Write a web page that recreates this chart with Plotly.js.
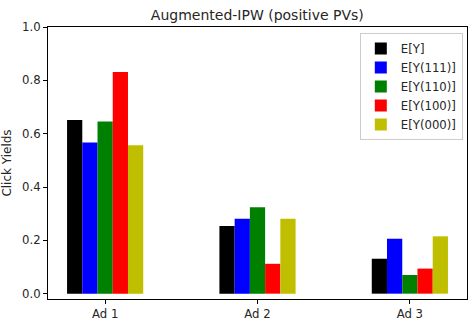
<!DOCTYPE html>
<html>
<head>
<meta charset="utf-8">
<script src="https://cdn.plot.ly/plotly-3.0.1.min.js"></script>
<style>
  html, body { margin: 0; padding: 0; background: #fff; }
  #myDiv { width: 473px; height: 327px; }
</style>
</head>
<body>
<div id="myDiv"></div>
<script>
// categories and series
const ads = ['Ad 1', 'Ad 2', 'Ad 3'];
const seriesNames = ['E[Y]', 'E[Y(111)]', 'E[Y(110)]', 'E[Y(100)]', 'E[Y(000)]'];
const eY    = [0.651, 0.254, 0.131];
const eY111 = [0.567, 0.281, 0.206];
const eY110 = [0.646, 0.324, 0.070];
const eY100 = [0.831, 0.112, 0.094];
const eY000 = [0.557, 0.281, 0.215];
const colors = ['#000000', '#0000ff', '#008000', '#ff0000', '#bfbf00'];
const yTicks = [0.0, 0.2, 0.4, 0.6, 0.8, 1.0];

const values = [eY, eY111, eY110, eY100, eY000];
const data = [];
for (let i = 0; i < values.length; i++) {
    data.push({
        type: 'bar',
        name: seriesNames[i],
        x: ads,
        y: values[i],
        marker: {color: colors[i], line: {width: 0}}
    });
}

const font = {family: 'DejaVu Sans, sans-serif', size: 11.7, color: '#262626'};

const layout = {
    width: 473,
    height: 327,
    margin: {l: 48, r: 6, t: 27, b: 28},
    paper_bgcolor: '#ffffff',
    plot_bgcolor: '#ffffff',
    font: font,
    title: {
        text: 'Augmented-IPW (positive PVs)',
        font: {family: 'DejaVu Sans, sans-serif', size: 14, color: '#262626'},
        x: 0.544, xanchor: 'center',
        y: 0.955, yanchor: 'middle'
    },
    barmode: 'group',
    bargap: 0.5,
    bargroupgap: 0,
    showlegend: true,
    legend: {
        x: 0.99, xanchor: 'right',
        y: 0.978, yanchor: 'top',
        bgcolor: '#ffffff',
        bordercolor: '#cccccc',
        borderwidth: 1,
        font: font,
        tracegroupgap: 0
    },
    xaxis: {
        type: 'category',
        range: [-0.375, 2.375],
        showline: true, linecolor: '#000000', linewidth: 1, mirror: true,
        ticks: 'outside', ticklen: 4, tickcolor: '#000000',
        showgrid: false, zeroline: false,
        tickfont: font
    },
    yaxis: {
        range: [-0.02, 1.0],
        tickvals: yTicks,
        ticktext: yTicks.map(v => v.toFixed(1)),
        showline: true, linecolor: '#000000', linewidth: 1, mirror: true,
        ticks: 'outside', ticklen: 4, tickcolor: '#000000',
        showgrid: false, zeroline: false,
        tickfont: font,
        title: {text: 'Click Yields', font: {family: 'DejaVu Sans, sans-serif', size: 12, color: '#262626'}, standoff: 7}
    }
};

Plotly.newPlot('myDiv', data, layout, {staticPlot: true, displayModeBar: false});
</script>
</body>
</html>
